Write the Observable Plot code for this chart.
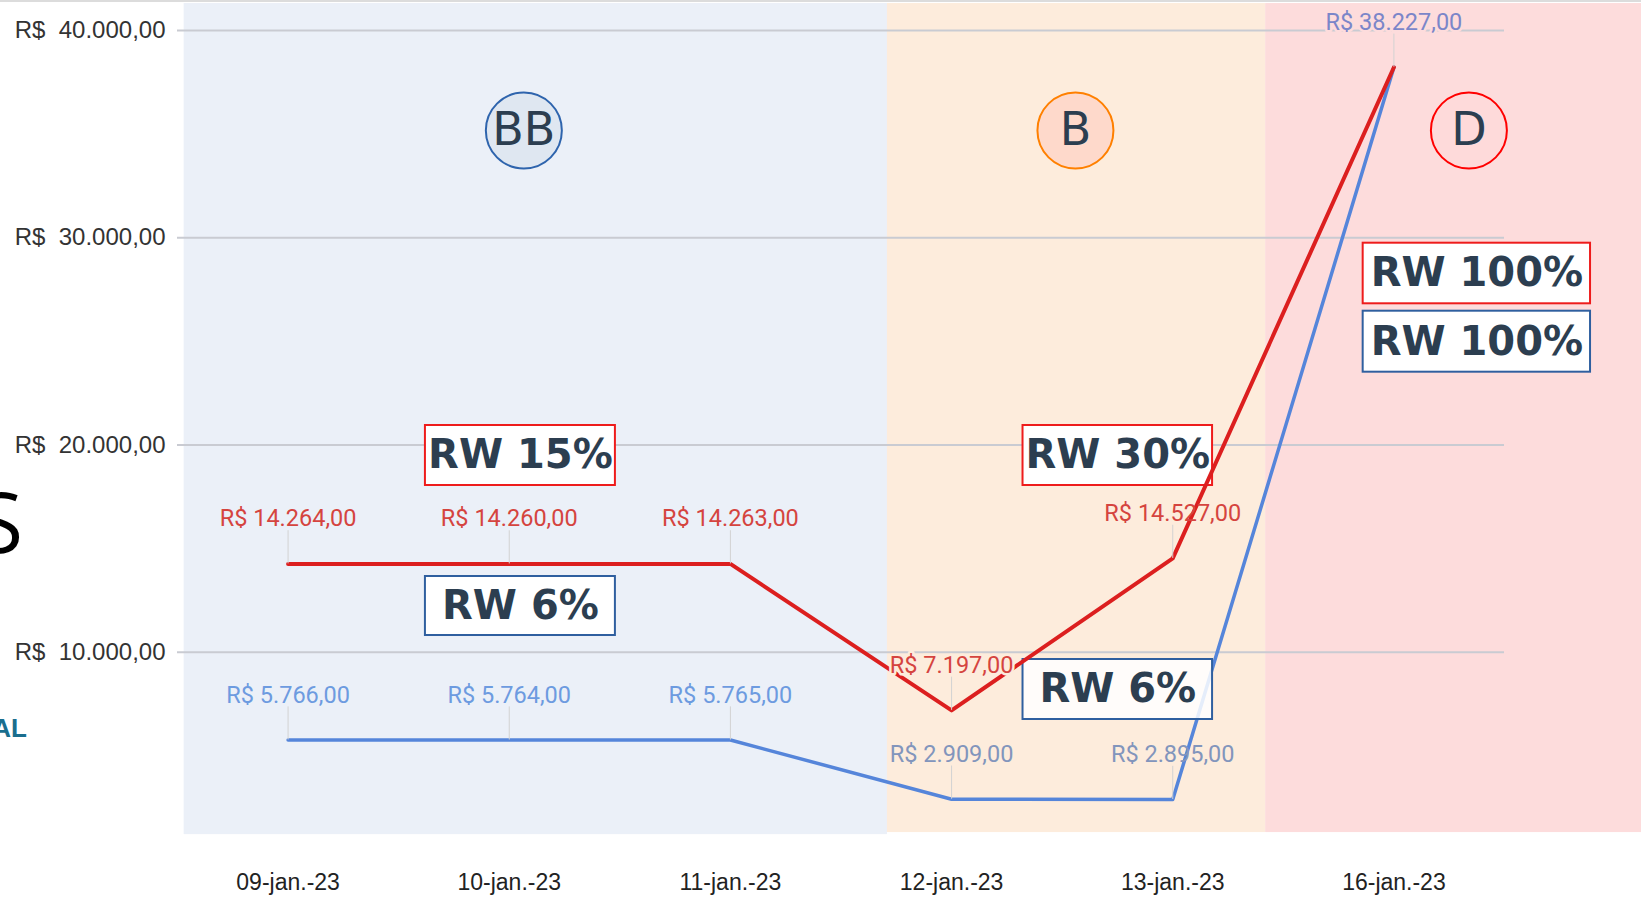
<!DOCTYPE html>
<html>
<head>
<meta charset="utf-8">
<script src="https://cdn.jsdelivr.net/npm/d3@7"></script>
<script src="https://cdn.jsdelivr.net/npm/@observablehq/plot@0.6"></script>
<style>
  html, body { margin: 0; padding: 0; background: #fff; }
  body { width: 1641px; height: 898px; overflow: hidden; position: relative; }
  #chart { position: absolute; left: 0; top: 0; }
  .topbar { position: absolute; left: 0; top: 0; width: 1641px; height: 2px; background: #dcdcdc; }
</style>
</head>
<body>
<div id="chart"></div>
<div class="topbar"></div>
<script>
// ---- data ----
const dates = ["09-jan.-23", "10-jan.-23", "11-jan.-23", "12-jan.-23", "13-jan.-23", "16-jan.-23"];
const redValues = [14264, 14260, 14263, 7197, 14527, 38227];
const blueValues = [5766, 5764, 5765, 2909, 2895, 38227];
const yTicks = [10000, 20000, 30000, 40000];

// label colours per point
const redLabelColors = ["#d5443f", "#d5443f", "#d5443f", "#d5443f", "#d5443f", null];
const blueLabelColors = ["#6d9be0", "#6d9be0", "#6d9be0", "#8295bc", "#8295bc", "#7b86c9"];

// shaded rating zones (x in date-index units, y in R$)
const zones = [
  {x1: -0.47, x2: 2.71, y1: 1200, y2: 41300, fill: "#ebf0f8"},
  {x1: 2.71, x2: 4.42, y1: 1300, y2: 41300, fill: "#fdecdc"},
  {x1: 4.42, x2: 6.13, y1: 1300, y2: 41300, fill: "#fddcdc"}
];

// rating badges
const badges = [
  {label: "BB", x: 1.066, y: 35175, fill: "#dfe7f1", stroke: "#2e64ad"},
  {label: "B", x: 3.560, y: 35175, fill: "#fed9cb", stroke: "#ff8000"},
  {label: "D", x: 5.339, y: 35175, fill: "#fedada", stroke: "#ff0000"}
];

// risk-weight boxes
const boxes = [
  {text: "RW 15%", x1: 0.621, x2: 1.480, y1: 18046, y2: 20941, stroke: "#ee1c1c", solid: true},
  {text: "RW 6%", x1: 0.621, x2: 1.480, y1: 10808, y2: 13655, stroke: "#2f5f9f", solid: true},
  {text: "RW 30%", x1: 3.323, x2: 4.180, y1: 18046, y2: 20941, stroke: "#ee1c1c", solid: true},
  {text: "RW 6%", x1: 3.323, x2: 4.180, y1: 6755, y2: 9650, stroke: "#2f5f9f", solid: false},
  {text: "RW 100%", x1: 4.861, x2: 5.889, y1: 26813, y2: 29737, stroke: "#ee1c1c", solid: true},
  {text: "RW 100%", x1: 4.861, x2: 5.889, y1: 23513, y2: 26456, stroke: "#2f5f9f", solid: true}
];

// ---- derived tables ----
const br = d3.formatLocale({decimal: ",", thousands: ".", grouping: [3], currency: ["R$ ", ""]});
const money = br.format(",.2f");

const red = redValues.map((v, i) => ({i, v}));
const blue = blueValues.map((v, i) => ({i, v}));

const labels = [];
redValues.forEach((v, i) => { if (redLabelColors[i]) labels.push({i, v, color: redLabelColors[i], halo: i === 3 ? "#fdecdc" : null}); });
blueValues.forEach((v, i) => { if (blueLabelColors[i]) labels.push({i, v, color: blueLabelColors[i], halo: i === 5 ? "#fddcdc" : null}); });

const haloLabels = labels.filter(d => d.halo);
const plainLabels = labels.filter(d => !d.halo);

const chart = Plot.plot({
  width: 1641,
  height: 898,
  marginTop: 30,
  marginBottom: 39,
  marginLeft: 177,
  marginRight: 137,
  style: {fontFamily: "'Liberation Sans', Arial, sans-serif", fontSize: "23px", background: "transparent", overflow: "visible"},
  x: {type: "linear", domain: [-0.5, 5.5]},
  y: {domain: [0, 40000]},
  color: {type: "identity"},
  marks: [
    Plot.rect(zones, {x1: "x1", x2: "x2", y1: "y1", y2: "y2", fill: "fill"}),
    Plot.ruleY(yTicks, {stroke: "#c9cbd2", strokeWidth: 2}),
    Plot.line(blue, {x: "i", y: "v", stroke: "#5585da", strokeWidth: 3.5}),
    Plot.rect(boxes.filter(d => d.solid), {x1: "x1", x2: "x2", y1: "y1", y2: "y2", fill: "#ffffff", stroke: "stroke", strokeWidth: 2}),
    Plot.rect(boxes.filter(d => !d.solid), {x1: "x1", x2: "x2", y1: "y1", y2: "y2", fill: "#ffffff", fillOpacity: 0.85, stroke: "stroke", strokeWidth: 2}),
    Plot.text(boxes, {x: d => (d.x1 + d.x2) / 2, y: d => (d.y1 + d.y2) / 2, text: "text", fontSize: 40, fontWeight: "bold", fontFamily: "'DejaVu Sans', sans-serif", fill: "#2c3e50", lineAnchor: "middle"}),
    Plot.line(red, {x: "i", y: "v", stroke: "#dc1f1f", strokeWidth: 4}),
    Plot.ruleX(labels, {x: "i", y1: "v", y2: d => d.v + 1600, stroke: "#d2d2d2", strokeWidth: 1}),
    Plot.text(plainLabels, {x: "i", y: "v", dy: -45, text: d => "R$ " + money(d.v), fill: "color", fontSize: 23.5, fontFamily: "Roboto, sans-serif", lineAnchor: "middle"}),
    Plot.text(haloLabels, {x: "i", y: "v", dy: -45, text: d => "R$ " + money(d.v), fill: "color", stroke: "halo", strokeWidth: 5, fontSize: 23.5, fontFamily: "Roboto, sans-serif", lineAnchor: "middle"}),
    Plot.dot(badges, {x: "x", y: "y", r: 38, fill: "fill", stroke: "stroke", strokeWidth: 2}),
    Plot.text(badges, {x: "x", y: "y", text: "label", fontSize: 46, fontFamily: "'DejaVu Sans', sans-serif", fill: "#2c3e50", lineAnchor: "middle"}),
    Plot.axisY(yTicks, {tickFormat: d => "R$\u00a0 " + money(d), tickSize: 0, tickPadding: 12, fontSize: 24, fill: "#333", label: null}),
    Plot.axisX(d3.range(dates.length), {tickFormat: i => dates[i], tickSize: 0, tickPadding: 14, fontSize: 23, fill: "#222", label: null})
  ]
});

document.getElementById("chart").appendChild(chart);

// cropped slide remnants at the left edge (cut off in the reference too)
const svg = d3.select(chart);
svg.append("text").attr("x", 23).attr("y", 553).attr("text-anchor", "end")
  .attr("font-family", "'Open Sans', sans-serif").attr("font-size", 84).attr("fill", "#000").text("S");
svg.append("text").attr("x", 27).attr("y", 737).attr("text-anchor", "end")
  .attr("font-family", "'Liberation Sans', Arial, sans-serif").attr("font-weight", "bold")
  .attr("font-size", 26).attr("fill", "#1a6e8e").text("AL");
</script>
</body>
</html>
